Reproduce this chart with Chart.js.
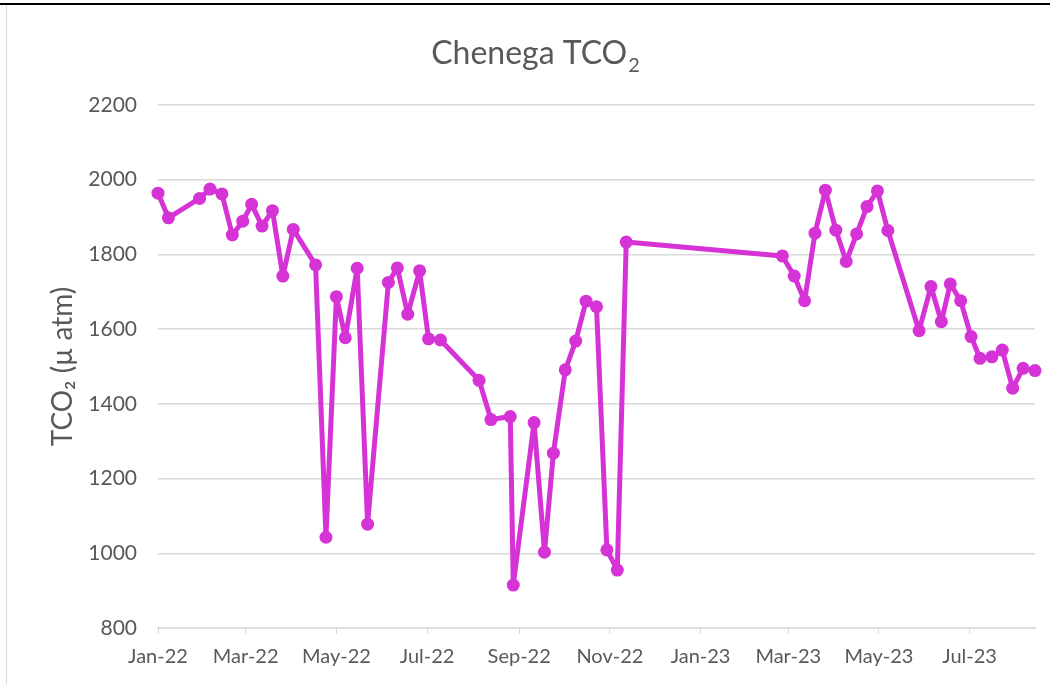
<!DOCTYPE html>
<html>
<head>
<meta charset="utf-8">
<title>Chenega TCO2</title>
<script src="https://cdn.jsdelivr.net/npm/chart.js@4.4.1/dist/chart.umd.min.js"></script>
<style>
  html, body { margin: 0; padding: 0; background: #fff; }
  #wrap { position: relative; width: 1050px; height: 684px; overflow: hidden; }
  #frameTop { position: absolute; left: 0; top: 3px; width: 1050px; height: 2px; background: #000; }
  #frameLeft { position: absolute; left: 6px; top: 5px; width: 1px; height: 679px; background: #d9d9d9; }
  canvas { position: absolute; left: 0; top: 0; }
</style>
</head>
<body>
<div id="wrap">
  <canvas id="tcoChart" width="1050" height="684"></canvas>
  <div id="frameTop"></div>
  <div id="frameLeft"></div>
</div>
<script>
// sample dates and TCO2 values
const sampleDates = [
  "2022-01-01", "2022-01-08", "2022-01-29", "2022-02-05", "2022-02-13",
  "2022-02-20", "2022-02-27", "2022-03-05", "2022-03-12", "2022-03-19",
  "2022-03-26", "2022-04-02", "2022-04-17", "2022-04-24", "2022-05-01",
  "2022-05-07", "2022-05-15", "2022-05-22", "2022-06-05", "2022-06-11",
  "2022-06-18", "2022-06-26", "2022-07-02", "2022-07-10", "2022-08-05",
  "2022-08-13", "2022-08-26", "2022-08-28", "2022-09-11", "2022-09-18",
  "2022-09-24", "2022-10-02", "2022-10-09", "2022-10-16", "2022-10-23",
  "2022-10-30", "2022-11-06", "2022-11-12", "2023-02-25", "2023-03-05",
  "2023-03-12", "2023-03-19", "2023-03-26", "2023-04-02", "2023-04-09",
  "2023-04-16", "2023-04-23", "2023-04-30", "2023-05-07", "2023-05-28",
  "2023-06-05", "2023-06-12", "2023-06-18", "2023-06-25", "2023-07-02",
  "2023-07-08", "2023-07-16", "2023-07-23", "2023-07-30", "2023-08-06",
  "2023-08-14"
];
const tco2 = [
  1964, 1898, 1950, 1975, 1962,
  1852, 1889, 1934, 1876, 1917,
  1742, 1867, 1772, 1043, 1687,
  1577, 1763, 1078, 1725, 1764,
  1640, 1756, 1574, 1571, 1463,
  1358, 1366, 915, 1350, 1003,
  1268, 1491, 1568, 1675, 1660,
  1009, 955, 1833, 1796, 1742,
  1676, 1857, 1972, 1865, 1781,
  1855, 1928, 1970, 1864, 1596,
  1714, 1620, 1721, 1676, 1580,
  1522, 1526, 1544, 1442, 1495,
  1489
];

const tickDates = [
  "2022-01-01", "2022-03-01", "2022-05-01", "2022-07-01", "2022-09-01",
  "2022-11-01", "2023-01-01", "2023-03-01", "2023-05-01", "2023-07-01"
];
const tickLabels = [
  "Jan-22", "Mar-22", "May-22", "Jul-22", "Sep-22",
  "Nov-22", "Jan-23", "Mar-23", "May-23", "Jul-23"
];
const axisStart = "2022-01-01";
const axisEnd = "2023-08-14";
const yTicks = [800, 1000, 1200, 1400, 1600, 1800, 2000, 2200];

const START = Date.UTC(2022, 0, 1);
const DAY_MS = 86400000;
function dayOf(s) {
  const [y, m, d] = s.split("-").map(Number);
  return (Date.UTC(y, m - 1, d) - START) / DAY_MS;
}

const tickDays = tickDates.map(dayOf);
const points = sampleDates.map((d, i) => ({ x: dayOf(d), y: tco2[i] }));

const textColor = "#595959";
const gridColor = "#d9d9d9";
const lineColor = "#d633d6";
const fontFamily = "Lato, 'Open Sans', sans-serif";

// title with a real subscript
const titlePlugin = {
  id: "subTitle",
  afterDraw(chart) {
    const ctx = chart.ctx;
    ctx.save();
    ctx.fillStyle = textColor;
    ctx.textBaseline = "alphabetic";
    ctx.font = "32px " + fontFamily;
    const main = "Chenega TCO";
    const wMain = ctx.measureText(main).width;
    ctx.font = "20px " + fontFamily;
    const wSub = ctx.measureText("2").width;
    const x0 = 535 - (wMain + wSub) / 2;
    ctx.font = "32px " + fontFamily;
    ctx.fillText(main, x0, 64);
    ctx.font = "20px " + fontFamily;
    ctx.fillText("2", x0 + wMain + 1, 72);
    ctx.restore();
  },
};

const ctx = document.getElementById("tcoChart").getContext("2d");
const chart = new Chart(ctx, {
  type: "line",
  data: {
    datasets: [
      {
        label: "TCO2",
        data: points,
        borderColor: lineColor,
        backgroundColor: lineColor,
        borderWidth: 5,
        borderJoinStyle: "round",
        borderCapStyle: "round",
        pointRadius: 6.5,
        pointHoverRadius: 6.5,
        pointBorderWidth: 0,
        tension: 0,
        clip: false,
      },
    ],
  },
  options: {
    responsive: false,
    animation: false,
    layout: { padding: { top: 105, right: 15, bottom: 0, left: 0 } },
    plugins: {
      legend: { display: false },
      tooltip: { enabled: false },
      title: { display: false },
    },
    scales: {
      x: {
        type: "linear",
        min: dayOf(axisStart),
        max: dayOf(axisEnd),
        afterBuildTicks: (scale) => {
          scale.ticks = tickDays.map((v) => ({ value: v }));
        },
        afterFit: (scale) => {
          scale.height = 56;
        },
        ticks: {
          autoSkip: false,
          maxRotation: 0,
          padding: 11,
          color: textColor,
          font: { family: fontFamily, size: 20 },
          callback: (value) => {
            const i = tickDays.indexOf(value);
            return i >= 0 ? tickLabels[i] : "";
          },
        },
        grid: {
          drawOnChartArea: false,
          drawTicks: true,
          tickLength: 6,
          color: gridColor,
        },
        border: { display: true, color: gridColor, width: 1.5 },
      },
      y: {
        min: 800,
        max: 2200,
        afterBuildTicks: (scale) => {
          scale.ticks = yTicks.map((v) => ({ value: v }));
        },
        afterFit: (scale) => {
          scale.width = 158;
        },
        ticks: {
          padding: 21,
          color: textColor,
          font: { family: fontFamily, size: 21 },
          callback: (value) => String(value),
        },
        grid: { color: gridColor, lineWidth: 1.5, drawTicks: false },
        border: { display: false },
        title: {
          display: true,
          text: "TCO\u2082 (\u00b5 atm)",
          color: textColor,
          font: { family: fontFamily, size: 28 },
          padding: { top: 46, bottom: 0 },
        },
      },
    },
  },
  plugins: [titlePlugin],
});
</script>
</body>
</html>
